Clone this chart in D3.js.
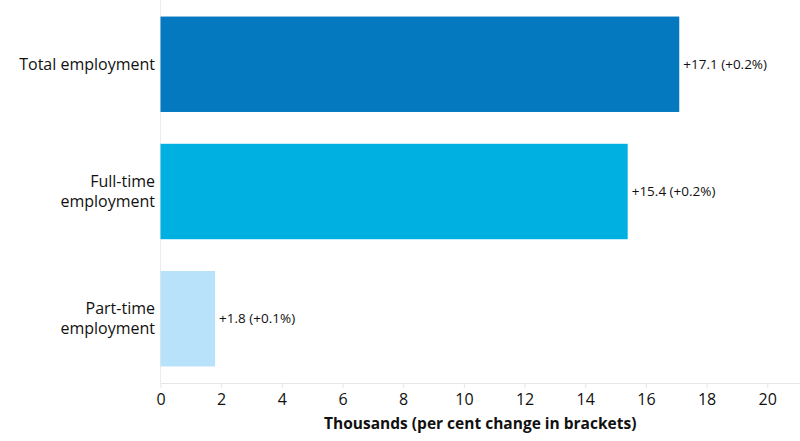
<!DOCTYPE html>
<html><head><meta charset="utf-8">
<script src="https://cdn.jsdelivr.net/npm/d3@7"></script>
<style>body{margin:0;background:#fff}svg{display:block}</style>
</head><body>
<svg id="c" width="800" height="441"></svg>
<script>
const categories = [["Total employment"], ["Full-time", "employment"], ["Part-time", "employment"]];
const values = [17.1, 15.4, 1.8];
const pctChange = ["+0.2%", "+0.2%", "+0.1%"];
const colors = ["#0579BF", "#00B0E0", "#B8E2FA"];
const tickValues = [0, 2, 4, 6, 8, 10, 12, 14, 16, 18, 20];
const axisTitle = "Thousands (per cent change in brackets)";

(function () {
const svg = d3.select("#c");
const mLeft = 160.5, mRight = 800, mTop = 0, mBottom = 383;
const keys = categories.map(c => c.join(" "));
const x = d3.scaleLinear().domain([0, 21.08]).range([mLeft, mRight]);
const y = d3.scaleBand().domain(keys).range([mTop, mBottom]).paddingInner(0.25).paddingOuter(0.13);
const font = "'Open Sans', sans-serif";

svg.append("line").attr("x1", mLeft).attr("x2", mLeft).attr("y1", 0).attr("y2", mBottom)
  .attr("stroke", "#ececec").attr("stroke-width", 1);

svg.selectAll("rect.bar").data(values).join("rect")
  .attr("x", x(0)).attr("y", (d, i) => y(keys[i]))
  .attr("width", d => x(d) - x(0)).attr("height", y.bandwidth())
  .attr("fill", (d, i) => colors[i]);

svg.selectAll("text.val").data(values).join("text")
  .attr("x", d => x(d) + 4).attr("y", (d, i) => y(keys[i]) + y.bandwidth() / 2)
  .attr("dy", "0.35em").attr("font-family", font).attr("font-size", 13.5).attr("fill", "#111")
  .text((d, i) => "+" + d.toFixed(1) + " (" + pctChange[i] + ")");

categories.forEach((lines, i) => {
  const cy = y(keys[i]) + y.bandwidth() / 2;
  const lh = 20;
  const t = svg.append("text").attr("text-anchor", "end").attr("font-family", font)
    .attr("font-size", 16).attr("fill", "#111");
  lines.forEach((ln, j) => {
    t.append("tspan").attr("x", 155).attr("y", cy + (j - (lines.length - 1) / 2) * lh).attr("dy", "0.35em").text(ln);
  });
});

const ax = svg.append("g").attr("transform", `translate(0,${mBottom})`)
  .call(d3.axisBottom(x).tickValues(tickValues).tickSize(5).tickPadding(6).tickSizeOuter(0));
ax.select(".domain").attr("stroke", "#e6e6e6").attr("d", `M${mLeft},0.5H${mRight}`);
ax.selectAll(".tick line").attr("stroke", "#e6e6e6");
ax.selectAll(".tick text").attr("font-family", font).attr("font-size", 16).attr("fill", "#111");

svg.append("text").attr("x", (mLeft + mRight) / 2).attr("y", 429).attr("text-anchor", "middle")
  .attr("font-family", font).attr("font-weight", "bold").attr("font-size", 15.5).attr("fill", "#111")
  .text(axisTitle);
})();
</script>
</body></html>
